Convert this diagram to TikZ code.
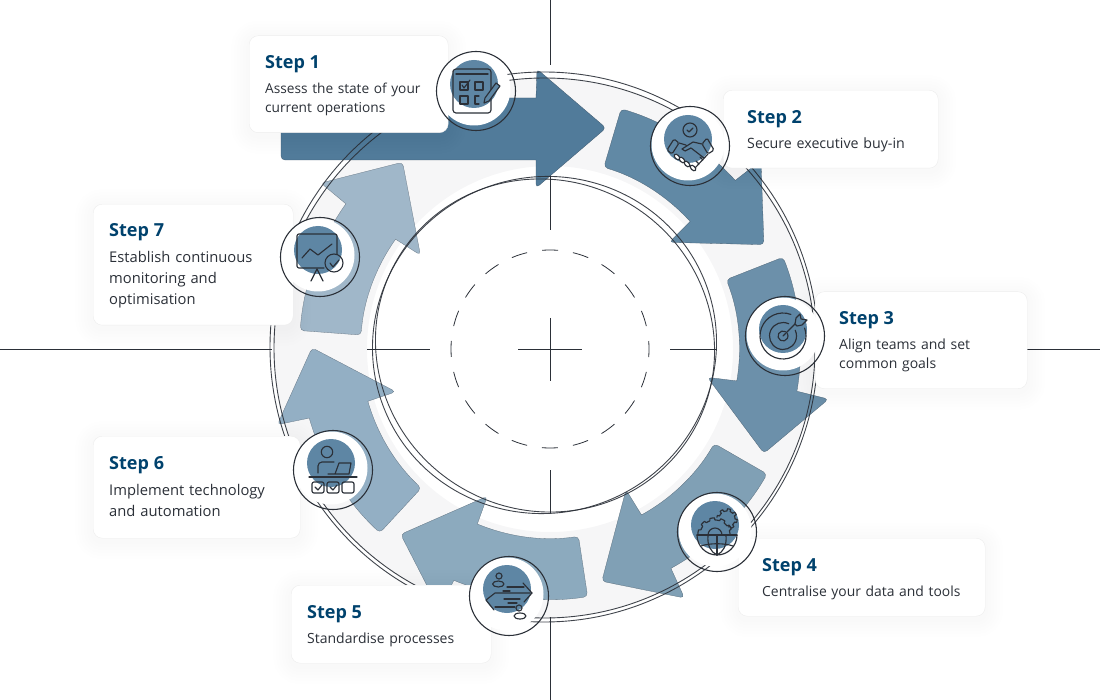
\documentclass[tikz,border=0pt]{standalone}
\usepackage{fontspec}
\setmainfont{Open Sans}
\usepackage{tikz}
\definecolor{inkdark}{HTML}{2B3038}
\definecolor{stepblue}{HTML}{00426D}
\definecolor{bandgrey}{HTML}{F6F6F7}
\definecolor{iconblue}{HTML}{5E86A4}
\definecolor{arrowa}{HTML}{517B9A}
\definecolor{arrowb}{HTML}{6189A5}
\definecolor{arrowc}{HTML}{6C90AA}
\definecolor{arrowd}{HTML}{80A0B5}
\definecolor{arrowe}{HTML}{8CAABE}
\definecolor{arrowf}{HTML}{93AFC4}
\definecolor{arrowg}{HTML}{A0B7C9}
\tikzset{
  softhalo/.style={preaction={draw=black, draw opacity=.004, line width=#1, transform canvas={yshift=-3pt}}},
  stepcard/.style={softhalo=36pt, softhalo=30pt, softhalo=24pt, softhalo=18pt, softhalo=12pt, softhalo=6pt,
    draw=black!7, line width=.4pt, fill=white, rounded corners=9pt, anchor=north west,
    align=left, inner xsep=16pt, inner ysep=0pt, text=inkdark},
  bodytext/.style={font=\fontsize{#1}{19}\selectfont},
  longtext/.style={font=\fontsize{14.75}{21}\selectfont},
  iconring/.style={circle, draw=inkdark, line width=1.1pt, minimum size=79pt, inner sep=0pt},
  iconline/.style={draw=inkdark, line width=1.15pt, line cap=round, line join=round},
  axisline/.style={draw=inkdark, line width=.8pt},
  sketchline/.style={draw=inkdark, line width=.9pt, opacity=.9},
  ringarrow/.style={line width=.3pt, draw=inkdark!45!#1, fill=#1}
}
\newcommand{\steptitle}[2][13]{{\fontsize{18}{22}\selectfont\bfseries\color{stepblue}\rule{0pt}{#1pt}#2}}
\begin{document}
\begin{tikzpicture}[x=1pt,y=-1pt]
  \useasboundingbox (0,0) rectangle (1100,700);

  \fill[bandgrey, even odd rule] (544.5,348) ellipse[x radius=270.5pt, y radius=270pt] (550,349) circle[radius=183pt];

  \draw[axisline] (550,0) -- (550,65);
  \draw[axisline] (550,165) -- (550,230);
  \draw[axisline] (550,470) -- (550,513);
  \draw[axisline] (550,617) -- (550,700);
  \draw[axisline] (0,349) -- (272,349);
  \draw[axisline] (367,349) -- (430,349);
  \draw[axisline] (670,349) -- (717,349);
  \draw[axisline] (1025,349) -- (1100,349);
  \draw[axisline] (518,349) -- (582,349);
  \draw[axisline] (550,318) -- (550,381);
  \draw[inkdark, line width=.8pt, dash pattern=on 16pt off 15.1pt, dash phase=8pt] (550,349) circle[radius=99pt];

  \foreach \rot/\col in {52/arrowb,0/arrowc,-51.43/arrowd,-102.86/arrowe,-154.29/arrowf,-205.72/arrowg}{
    \begin{scope}[shift={(550,349)}, rotate=\rot, x=1pt, y=1pt]
      \path[ringarrow=\col] (-9.7:189.5) [rounded corners=4pt] arc[start angle=-9.7, end angle=21.5, radius=189.5]
        -- (21.5:250.5) [sharp corners] arc[start angle=21.5, end angle=-9.7, radius=250.5]
        [rounded corners=4pt] -- (-10.2:283) -- (-26:238) -- (-10.2:160) [sharp corners] -- cycle;
    \end{scope}
  }
  \path[ringarrow=arrowa] (536,98) [rounded corners=4pt] -- (281,98) -- (281,160) [sharp corners] -- (536,160)
    [rounded corners=4pt] -- (536,188) -- (606,128) -- (537,69) [sharp corners] -- cycle;

  \draw[sketchline] (544,347) ellipse[x radius=274pt, y radius=275pt];
  \draw[sketchline] (544.5,348) ellipse[x radius=270.5pt, y radius=270pt];
  \draw[sketchline, rotate around={20:(544.5,345)}] (544.5,345) ellipse[x radius=172.5pt, y radius=168pt];
  \draw[sketchline, rotate around={-30:(545,345.5)}] (545,345.5) ellipse[x radius=171pt, y radius=165pt];

  \node[stepcard, bodytext=13.7, minimum width=199pt, minimum height=97pt, text width=167pt] (card1) at (249,35.5)
    {\steptitle[15.5]{Step 1}\\[6pt]Assess the state of your\\current operations};
  \node[stepcard, bodytext=14.2, minimum width=215pt, minimum height=78pt, text width=167pt, inner xsep=24pt] (card2) at (723,90)
    {\steptitle[17.5]{Step 2}\\[6pt]Secure executive buy-in};
  \node[stepcard, bodytext=14, minimum width=212pt, minimum height=97pt, text width=164pt, inner xsep=24pt] (card3) at (815,291.5)
    {\steptitle[15.5]{Step 3}\\[6pt]Align teams and set\\common goals};
  \node[stepcard, bodytext=13.9, minimum width=247pt, minimum height=78pt, text width=199pt, inner xsep=24pt] (card4) at (738,538)
    {\steptitle[17.5]{Step 4}\\[6pt]Centralise your data and tools};
  \node[stepcard, bodytext=14, minimum width=200pt, minimum height=78pt, text width=168pt] (card5) at (291,585)
    {\steptitle[17.5]{Step 5}\\[6pt]Standardise processes};
  \node[stepcard, longtext, minimum width=207pt, minimum height=102pt, text width=175pt] (card6) at (93,436)
    {\steptitle{Step 6}\\[5pt]Implement technology\\and automation\rule[-2pt]{0pt}{1pt}};
  \node[stepcard, longtext, minimum width=200pt, minimum height=121pt, text width=168pt] (card7) at (93,204)
    {\steptitle[15.5]{Step 7}\\[5pt]Establish continuous\\monitoring and\\optimisation};

  \foreach \n/\cx/\cy in {1/476/91,2/690/146,3/785/336,4/717/532,5/509/596,6/333/470,7/320/257}{
    \fill[white] (\cx-2,\cy-2) circle[radius=36.5pt];
    \fill[iconblue] (\cx-2,\cy-7) circle[radius=24pt];
    \node[iconring] (icon\n) at (\cx,\cy) {};
  }

  \begin{scope}[shift={(icon1.center)}, iconline]
    \draw[rounded corners=3pt] (-23,-17) -- (-23,22) -- (15,22) -- (15,-22) -- (-23,-22) -- cycle;
    \draw[line width=1.4pt] (-20,-17) -- (12,-17);
    \draw (-16,-9) -- (-8,-9) -- (-8,-1) -- (-16,-1) -- cycle;
    \draw (-1,-9) rectangle (7,-1);
    \draw (-16,5) rectangle (-8,13);
    \draw (3,5) -- (-1,5) -- (-1,13) -- (3,13);
    \draw (-14,-6) -- (-12,-3) -- (-6,-11);
    \draw[fill=iconblue] (9,7) -- (20,-8) -- (24,-5) -- (13,10) -- (8,12) -- cycle;
  \end{scope}

  \begin{scope}[shift={(icon2.center)}, iconline]
    \draw (0,-16) circle[radius=7pt];
    \draw (-3,-16) -- (-1,-14) -- (3,-18);
    \draw[rounded corners=1.5pt] (-23,4) -- (-16,-7) -- (-11,-3) -- (-18,8) -- cycle;
    \draw[rounded corners=1.5pt] (12,-2) -- (17,-8) -- (24,4) -- (18,8) -- cycle;
    \draw (-11,-3) -- (-4,-1) (12,-2) -- (3,-4) -- (-8,3) -- (-5,5) -- (1,2) -- (14,12);
    \draw (18,8) -- (5,22);
    \foreach \fx/\fy in {-13/11,-8/14,-3/18,3/22}{
      \draw[fill=white, rotate around={45:(\fx,\fy)}] (\fx,\fy) ellipse[x radius=2pt, y radius=3.4pt];
    }
    \draw (6,15) -- (9,18) (10,11) -- (13,14);
  \end{scope}

  \begin{scope}[shift={(icon3.center)}, iconline]
    \draw ([shift={(-2,0)}]70:23pt) arc[start angle=70, end angle=380, radius=23pt];
    \draw ([shift={(-2,0)}]65:13.5pt) arc[start angle=65, end angle=385, radius=13.5pt];
    \draw ([shift={(-2,0)}]60:5pt) arc[start angle=60, end angle=390, radius=5pt];
    \draw (-2,0) -- (12,-14);
    \draw[fill=iconblue] (10,-12) -- (11,-18) -- (15,-22) -- (16,-17) -- (22,-16) -- (17,-11) -- (12,-10) -- cycle;
  \end{scope}

  \begin{scope}[shift={(icon4.center)}, iconline]
    \draw[shift={(-2,3)}] plot[samples at={180,182.5,...,360}, variable=\a] (\a:{15+2.2*(sin(\a*10)>0)});
    \draw[shift={(10,-13)}] plot[samples at={190,192.5,...,440}, variable=\a] (\a:{8+2.2*(sin(\a*8)>0)});
    \draw (-9,3) arc[start angle=180, end angle=0, radius=7pt];
    \draw (-20,3) -- (20,3);
    \draw (-20,3) arc[start angle=180, end angle=360, radius=20pt];
    \draw (0,3) -- (0,23);
    \draw (-9,3) .. controls (-10,14) and (-6,20) .. (0,23) .. controls (6,20) and (10,14) .. (9,3);
    \draw (-16,14) .. controls (-8,11) and (8,11) .. (16,14);
  \end{scope}

  \begin{scope}[shift={(icon5.center)}, iconline]
    \draw (-10,-20) circle[radius=3pt];
    \draw (-10.7,-12) ellipse[x radius=5.7pt, y radius=3pt];
    \draw (-2,-9) -- (15,-9) (-6,-5) -- (1,-5);
    \draw (14,-13) -- (23,-3) -- (15,6);
    \draw (23,-3) -- (-14,-3) (-14,-3) -- (-23,4) -- (-15,14);
    \draw (-5,3) -- (11,3) (-1,7) -- (8,7) (-14,11) -- (6,11);
    \draw (10,12) circle[radius=3pt];
    \draw (11,20) ellipse[x radius=6pt, y radius=3pt];
  \end{scope}

  \begin{scope}[shift={(icon6.center)}, iconline]
    \draw (-6,-18) circle[radius=5.7pt];
    \draw[rounded corners=4pt] (-15,3) -- (-15,-8) -- (1,-8);
    \draw (-5,4) -- (16,4) -- (18,-7) -- (6,-7) -- (2,4);
    \draw (-24,7) -- (24,7);
    \foreach \bx in {-21,-6,9}{
      \draw[rounded corners=2pt] (\bx,12) rectangle (\bx+12,23);
    }
    \draw (-18,17) -- (-15,20) -- (-11,15);
    \draw (-3,17) -- (0,20) -- (4,15);
  \end{scope}

  \begin{scope}[shift={(icon7.center)}, iconline]
    \draw[rounded corners=2pt] (4,11) -- (-23,11) -- (-23,-23) -- (17,-23) -- (17,-3);
    \draw (-18,1) -- (-10,-8) -- (-2,-2) -- (12,-13);
    \draw (14,6) circle[radius=9pt];
    \draw (10,6) -- (13,10) -- (19,3);
    \draw (-3,12) -- (-9,24) (-3,12) -- (3,24);
  \end{scope}
\end{tikzpicture}
\end{document}
